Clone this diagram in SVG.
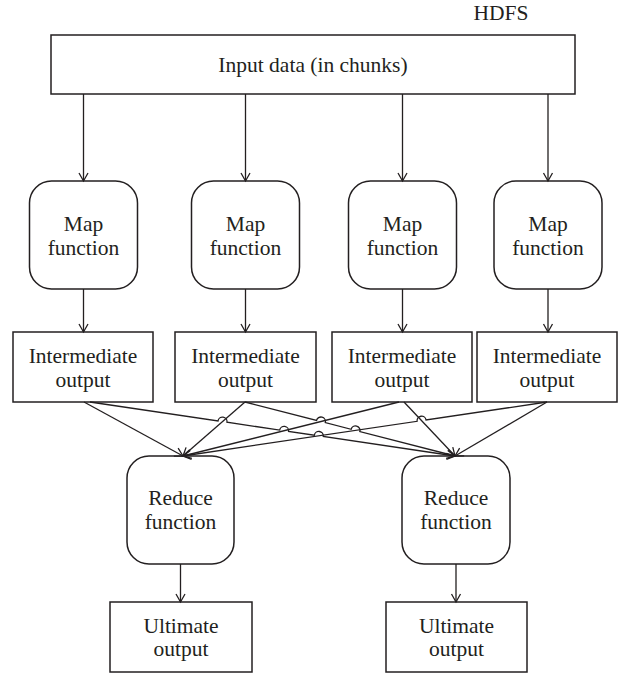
<svg xmlns="http://www.w3.org/2000/svg" width="627" height="674" viewBox="0 0 627 674">
  <defs>
    <marker id="arr" markerWidth="12" markerHeight="12" refX="0" refY="0" viewBox="-10 -6 12 12" orient="auto" markerUnits="userSpaceOnUse">
      <path d="M-8,-4.5 L0,0 L-8,4.5" fill="none" stroke="#231f20" stroke-width="1.3"/>
    </marker>
  </defs>
  <style>
    .box { fill: #ffffff; stroke: #231f20; stroke-width: 1.5; }
    .t { font-family: "Liberation Serif", "Times New Roman", serif; font-size: 21.5px; fill: #231f20; text-anchor: middle; }
    .c { fill: none; stroke: #231f20; stroke-width: 1.3; marker-end: url(#arr); }
  </style>
  <rect width="627" height="674" fill="#ffffff"/>

  <text id="hdfs" class="t" x="501" y="20">HDFS</text>

  <g id="input">
    <rect class="box" x="51" y="35" width="524" height="59"/>
    <text class="t" x="313" y="72">Input data (in chunks)</text>
  </g>

  <g id="map1">
    <rect class="box" x="29.5" y="181" width="108" height="108" rx="22" ry="22"/>
    <text class="t" x="83.5" y="231">Map</text>
    <text class="t" x="83.5" y="255">function</text>
  </g>
  <g id="map2">
    <rect class="box" x="191.5" y="181" width="108" height="108" rx="22" ry="22"/>
    <text class="t" x="245.5" y="231">Map</text>
    <text class="t" x="245.5" y="255">function</text>
  </g>
  <g id="map3">
    <rect class="box" x="348.5" y="181" width="108" height="108" rx="22" ry="22"/>
    <text class="t" x="402.5" y="231">Map</text>
    <text class="t" x="402.5" y="255">function</text>
  </g>
  <g id="map4">
    <rect class="box" x="494" y="181" width="108" height="108" rx="22" ry="22"/>
    <text class="t" x="548" y="231">Map</text>
    <text class="t" x="548" y="255">function</text>
  </g>

  <g id="inter1">
    <rect class="box" x="13" y="332" width="140" height="70"/>
    <text class="t" x="83" y="363">Intermediate</text>
    <text class="t" x="83" y="387">output</text>
  </g>
  <g id="inter2">
    <rect class="box" x="175" y="332" width="141" height="70"/>
    <text class="t" x="245.5" y="363">Intermediate</text>
    <text class="t" x="245.5" y="387">output</text>
  </g>
  <g id="inter3">
    <rect class="box" x="332" y="332" width="140" height="70"/>
    <text class="t" x="402" y="363">Intermediate</text>
    <text class="t" x="402" y="387">output</text>
  </g>
  <g id="inter4">
    <rect class="box" x="477" y="332" width="140" height="70"/>
    <text class="t" x="547" y="363">Intermediate</text>
    <text class="t" x="547" y="387">output</text>
  </g>

  <g id="reduce1">
    <rect class="box" x="127" y="456" width="107" height="108" rx="22" ry="22"/>
    <text class="t" x="180.5" y="505">Reduce</text>
    <text class="t" x="180.5" y="529">function</text>
  </g>
  <g id="reduce2">
    <rect class="box" x="402" y="456" width="108" height="108" rx="22" ry="22"/>
    <text class="t" x="456" y="505">Reduce</text>
    <text class="t" x="456" y="529">function</text>
  </g>

  <g id="ultimate1">
    <rect class="box" x="110" y="602" width="142" height="70"/>
    <text class="t" x="181" y="633">Ultimate</text>
    <text class="t" x="181" y="656">output</text>
  </g>
  <g id="ultimate2">
    <rect class="box" x="386" y="602" width="141" height="70"/>
    <text class="t" x="456.5" y="633">Ultimate</text>
    <text class="t" x="456.5" y="656">output</text>
  </g>

  <g id="connectors">
    <path class="c" d="M83.5,94 L83.5,181"/>
    <path class="c" d="M245.5,94 L245.5,181"/>
    <path class="c" d="M402.5,94 L402.5,181"/>
    <path class="c" d="M548,94 L548,181"/>

    <path class="c" d="M83.5,289 L83.5,332"/>
    <path class="c" d="M245.5,289 L245.5,332"/>
    <path class="c" d="M402.5,289 L402.5,332"/>
    <path class="c" d="M548,289 L548,332"/>

    <path class="c" d="M84,402 L183,456"/>
    <path class="c" d="M90,402 L218.04,420.94 A4.5,4.5 0 0 1 226.95,422.26 L279.67,430.06 A4.5,4.5 0 0 1 288.57,431.38 L314.36,435.19 A4.5,4.5 0 0 1 323.26,436.51 L455,456"/>
    <path class="c" d="M245,402 L183,456"/>
    <path class="c" d="M245,402 L316.56,420.40 A4.5,4.5 0 0 1 325.28,422.64 L351.13,429.29 A4.5,4.5 0 0 1 359.85,431.53 L455,456"/>
    <path class="c" d="M399,402 L183,456"/>
    <path class="c" d="M404,402 L455,456"/>
    <path class="c" d="M547,402 L426.02,419.95 A4.5,4.5 0 0 0 417.12,421.27 L183,456"/>
    <path class="c" d="M547,402 L455,456"/>

    <path class="c" d="M180.5,564 L180.5,602"/>
    <path class="c" d="M456,564 L456,602"/>
  </g>
</svg>
